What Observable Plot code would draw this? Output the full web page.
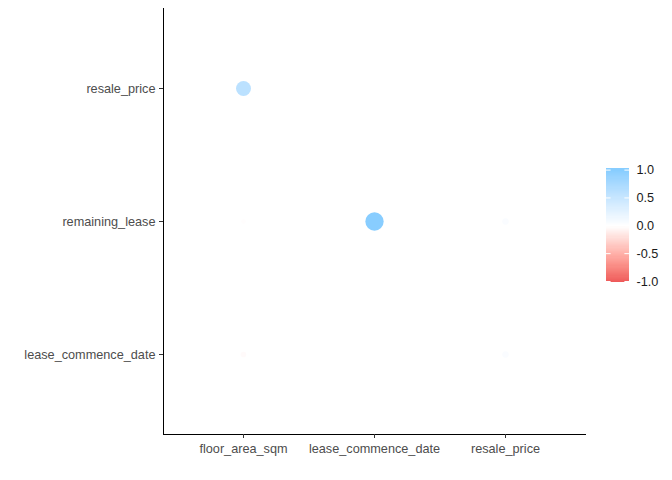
<!DOCTYPE html>
<html>
<head>
<meta charset="utf-8">
<script src="https://cdn.jsdelivr.net/npm/d3@7"></script>
<script src="https://cdn.jsdelivr.net/npm/@observablehq/plot@0.6"></script>
<style>
  body { margin: 0; background: #ffffff; }
  #wrap { position: relative; width: 672px; height: 480px; background: #ffffff; font-family: "Liberation Sans", Arial, sans-serif; }
  #legend { position: absolute; left: 600px; top: 155px; }
</style>
</head>
<body>
<div id="wrap"><div id="legend"></div></div>
<script>
// Categories
const xCats = ["floor_area_sqm", "lease_commence_date", "resale_price"];
const yCats = ["resale_price", "remaining_lease", "lease_commence_date"]; // top to bottom

// Correlation cells (x variable, y variable, value)
const cellX = ["floor_area_sqm", "lease_commence_date", "resale_price", "floor_area_sqm", "resale_price", "floor_area_sqm"];
const cellY = ["resale_price", "remaining_lease", "remaining_lease", "lease_commence_date", "lease_commence_date", "remaining_lease"];
const corrValues = [0.6, 0.99, 0.05, -0.03, 0.05, -0.01];

// Legend ticks
const legendTicks = [-1, -0.5, 0, 0.5, 1];

const cells = cellX.map((x, i) => ({x, y: cellY[i], v: corrValues[i], a: Math.abs(corrValues[i])}));

const colorOpts = {
  type: "linear",
  domain: [-1, 0, 1],
  range: ["#EE5A5A", "#ffffff", "#87CDFF"],
  interpolate: "lab",
  clamp: true
};

const FS = "12.7px";

const chart = Plot.plot({
  width: 672,
  height: 480,
  marginLeft: 163,
  marginRight: 87,
  marginTop: 8,
  marginBottom: 46,
  style: {fontFamily: "Liberation Sans, Arial, sans-serif", fontSize: FS, background: "#ffffff"},
  x: {type: "point", domain: xCats, padding: 0.6, label: null},
  y: {type: "point", domain: yCats, padding: 0.6, label: null},
  color: colorOpts,
  r: {type: "sqrt", domain: [0, 1], range: [1.5, 9.2]},
  marks: [
    Plot.frame({anchor: "left", stroke: "black", strokeWidth: 1}),
    Plot.frame({anchor: "bottom", stroke: "black", strokeWidth: 1}),
    Plot.dot(cells, {x: "x", y: "y", r: "a", fill: "v", stroke: null}),
    Plot.axisX({tickSize: 4, tickPadding: 5, color: "#4d4d4d", stroke: "#333333", fontSize: FS}),
    Plot.axisY({tickSize: 4, tickPadding: 4, color: "#4d4d4d", stroke: "#333333", fontSize: FS})
  ]
});
document.getElementById("wrap").prepend(chart);

// Vertical colour bar legend
const ramp = d3.range(0, 101).map(i => -1 + i * 0.02);
const legend = Plot.plot({
  width: 70,
  height: 140,
  marginLeft: 6,
  marginRight: 41,
  marginTop: 14.6,
  marginBottom: 14,
  style: {fontFamily: "Liberation Sans, Arial, sans-serif", fontSize: FS, background: "transparent", overflow: "visible"},
  x: {domain: [0, 1], axis: null},
  y: {domain: [-1, 1], axis: null},
  color: colorOpts,
  marks: [
    Plot.rect(ramp, {
      x1: 0, x2: 1,
      y1: d => (d <= -1 ? -1.025 : d - 0.02),
      y2: d => (d >= 1 ? 1.025 : d + 0.02),
      fill: d => d,
      shapeRendering: "crispEdges"
    }),
    Plot.ruleY(legendTicks, {y: d => d, x1: 0, x2: 0.2, stroke: "white", strokeWidth: 1}),
    Plot.ruleY(legendTicks, {y: d => d, x1: 0.8, x2: 1, stroke: "white", strokeWidth: 1}),
    Plot.axisY({anchor: "right", ticks: legendTicks, tickFormat: d => d.toFixed(1), tickSize: 0, tickPadding: 7, color: "#1a1a1a", fontSize: FS})
  ]
});
document.getElementById("legend").append(legend);
</script>
</body>
</html>
